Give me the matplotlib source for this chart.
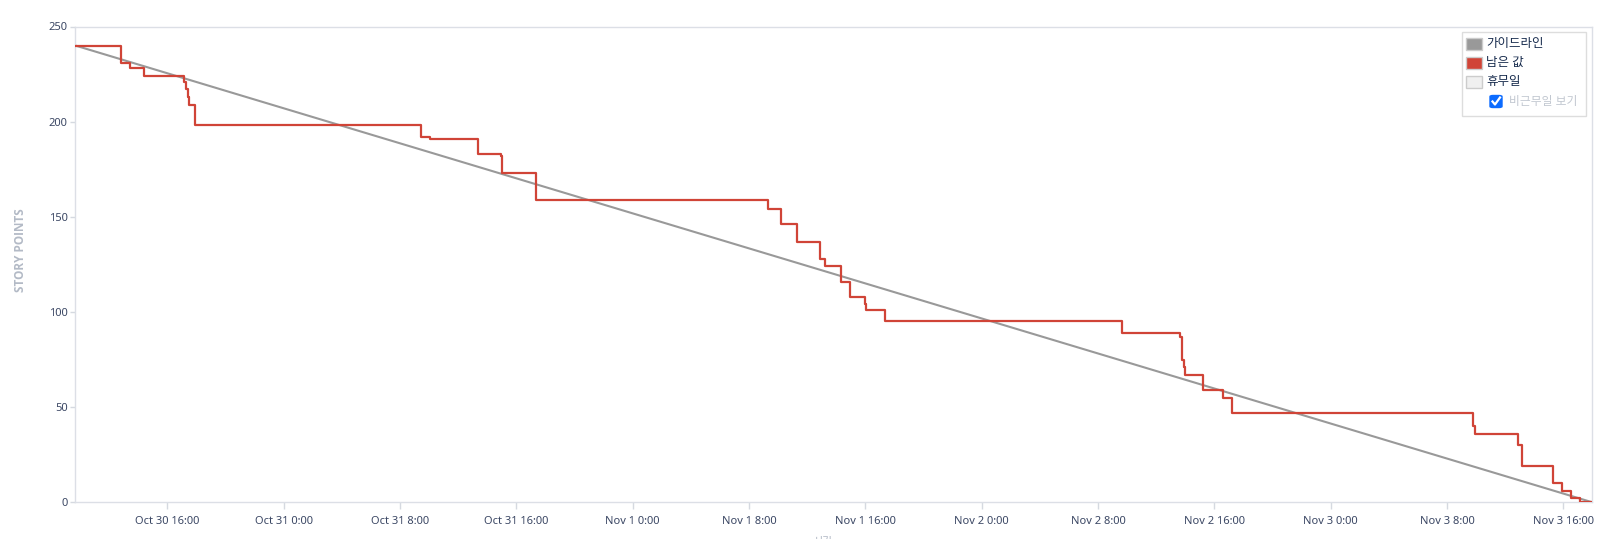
import matplotlib
matplotlib.use('Agg')
import matplotlib.pyplot as plt
import matplotlib.dates as mdates
from matplotlib.patches import Rectangle, FancyBboxPatch
from matplotlib.ticker import FuncFormatter
import pandas as pd

plt.rcParams['font.family'] = ['Noto Sans', 'Noto Sans CJK KR', 'DejaVu Sans']

# sprint range and guideline
sprint_start = '2023-10-30 09:40'
sprint_end = '2023-11-03 18:00'
guide_values = [240, 0]

# remaining story points (step changes)
remain_times = ['2023-10-30 09:40', '2023-10-30 12:47', '2023-10-30 13:25', '2023-10-30 14:24',
                '2023-10-30 17:08', '2023-10-30 17:17', '2023-10-30 17:24', '2023-10-30 17:31',
                '2023-10-30 17:52', '2023-10-31 09:26', '2023-10-31 10:04', '2023-10-31 13:23',
                '2023-10-31 14:55', '2023-10-31 14:59', '2023-10-31 17:21', '2023-11-01 09:20',
                '2023-11-01 10:14', '2023-11-01 11:20', '2023-11-01 12:54', '2023-11-01 13:13',
                '2023-11-01 14:20', '2023-11-01 14:56', '2023-11-01 15:58', '2023-11-01 16:04',
                '2023-11-01 17:23', '2023-11-02 09:40', '2023-11-02 13:38', '2023-11-02 13:46',
                '2023-11-02 13:57', '2023-11-02 13:59', '2023-11-02 15:14', '2023-11-02 16:35',
                '2023-11-02 17:13', '2023-11-03 09:47', '2023-11-03 09:57', '2023-11-03 12:52',
                '2023-11-03 13:08', '2023-11-03 15:18', '2023-11-03 15:56', '2023-11-03 16:31',
                '2023-11-03 17:08', '2023-11-03 17:58']
remain_values = [240, 231, 228, 224, 221, 217, 213, 209, 198, 192, 191, 183, 182, 173, 159,
                 154, 146, 137, 128, 124, 116, 108, 104, 101, 95, 89, 87, 75, 71, 67, 59, 55,
                 47, 40, 36, 30, 19, 10, 6, 2, 0, 0]

legend_labels = ['가이드라인', '남은 값', '휴무일']
legend_colors = ['#999999', '#d04437', '#f0f0f0']
checkbox_label = '비근무일 보기'

W, H = 1614, 539
fig = plt.figure(figsize=(W / 100, H / 100), dpi=100)
ax = fig.add_axes([75.3 / W, 1 - 502.3 / H, (1592.3 - 75.3) / W, (502.3 - 26.5) / H])

t_guide = pd.to_datetime([sprint_start, sprint_end])
ax.plot(t_guide, guide_values, color='#999999', lw=1.5, zorder=2)
ax.step(pd.to_datetime(remain_times), remain_values, where='post', color='#d04437', lw=1.6, zorder=3)

ax.set_xlim(t_guide[0], t_guide[1])
ax.set_ylim(0, 250)
ax.set_yticks([0, 50, 100, 150, 200, 250])

ax.xaxis.set_major_locator(mdates.HourLocator(byhour=[0, 8, 16]))


def fmt_date(x, pos):
    d = mdates.num2date(x)
    return '%s %d %d:%02d' % (d.strftime('%b'), d.day, d.hour, d.minute)


ax.xaxis.set_major_formatter(FuncFormatter(fmt_date))

for s in ax.spines.values():
    s.set_color('#dcdfe6')
    s.set_linewidth(1)
ax.tick_params(axis='x', length=5, width=1, color='#d5d9e0', labelsize=8,
               labelcolor='#3b4764', pad=5)
ax.tick_params(axis='y', length=3.5, width=1, color='#d5d9e0', labelsize=8,
               labelcolor='#3b4764', pad=2)

fig.text(20.6 / W, 1 - 250 / H, 'STORY POINTS', rotation=90, ha='center', va='center',
         fontsize=8.5, color='#b3bac6', fontweight='bold', family=['Open Sans', 'DejaVu Sans'])
fig.text(823 / W, 1 - 542 / H, '시간', ha='center', va='center', fontsize=8, color='#b3bac6')


# legend box drawn in pixel coords
def px(x, y):
    return x / W, 1 - y / H


def prect(x0, y0, x1, y1, **kw):
    fig.add_artist(Rectangle(px(x0, y1), (x1 - x0) / W, (y1 - y0) / H,
                             transform=fig.transFigure, **kw))


prect(1462.3, 32.3, 1586, 115.7, facecolor='white', edgecolor='#dddddd', lw=1, zorder=5)
rows = [44, 62.7, 81.7]
for yc, lab, col in zip(rows, legend_labels, legend_colors):
    prect(1466.3, yc - 5.8, 1481.5, yc + 5.8, facecolor=col, edgecolor='#cccccc', lw=1, zorder=6)
    fig.text(*px(1486, yc), lab, ha='left', va='center', fontsize=9, color='#172b4d', zorder=7)

cb = FancyBboxPatch(px(1490, 107.5), 12 / W, 12 / H, boxstyle='round,pad=0,rounding_size=0.002',
                    transform=fig.transFigure, facecolor='#0b6bff', edgecolor='#0b6bff', zorder=6)
fig.add_artist(cb)
fig.add_artist(plt.Line2D([1492.5 / W, 1495 / W, 1500 / W],
                          [1 - 101.5 / H, 1 - 104.5 / H, 1 - 97.5 / H],
                          transform=fig.transFigure, color='white', lw=1.6, zorder=7))
fig.text(*px(1509, 101.7), checkbox_label, ha='left', va='center', fontsize=8.5, color='#c1c7d0', zorder=7)

fig.savefig('out.png', dpi=100)
